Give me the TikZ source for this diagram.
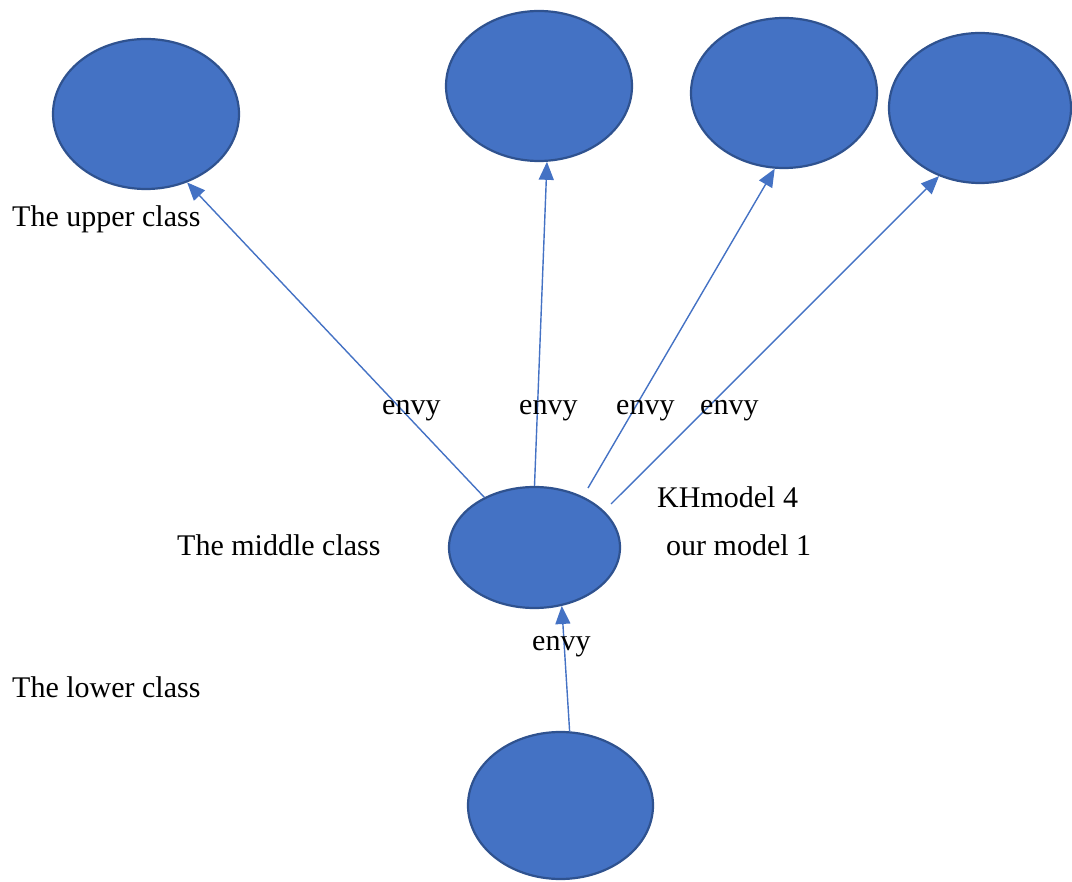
\documentclass[tikz,border=0pt]{standalone}
\usepackage{fontspec}
\setmainfont{Liberation Serif}
\usetikzlibrary{shapes.geometric,arrows.meta}
\definecolor{ofill}{HTML}{4472C4}
\definecolor{oedge}{HTML}{2F528F}
\tikzset{
  blob/.style={ellipse, fill=ofill, draw=oedge, line width=2.2pt, inner sep=0pt},
  envyarrow/.style={draw=ofill, line width=1.4pt, -{Triangle[length=18pt,width=15pt]}},
  lbl/.style={anchor=base west, inner sep=0pt, font=\fontsize{30}{35}\selectfont, text=black}
}
\begin{document}
\begin{tikzpicture}[x=1pt,y=-1pt]
\useasboundingbox (0,0) rectangle (1072,882);
% ellipses
\node[blob, minimum width=186pt, minimum height=150pt] (e1) at (146,114) {};
\node[blob, minimum width=186pt, minimum height=150pt] (e2) at (539,86) {};
\node[blob, minimum width=186pt, minimum height=150pt] (e3) at (784,93) {};
\node[blob, minimum width=182pt, minimum height=150pt] (e4) at (980,108) {};
\node[blob, minimum width=171pt, minimum height=121pt] (mid) at (534.5,547.5) {};
\node[blob, minimum width=185pt, minimum height=147pt] (low) at (560.5,805.5) {};
% tails off the border
\coordinate (s3) at (588,488);
\coordinate (s4) at (611,504);
% arrows
\draw[envyarrow] (mid.135.6) -- (e1.-59.3);
\draw[envyarrow] (mid.90) -- (e2.-84.7);
\draw[envyarrow] (s3) -- (e3.-97.8);
\draw[envyarrow] (s4) -- (e4.-121);
\draw[envyarrow] (low.83.5) -- (mid.-65.6);
% labels
\node[lbl] (t1) at (12,227) {The upper class};
\node[lbl] (t2) at (177,556) {The middle class};
\node[lbl] (t3) at (12,697) {The lower class};
\node[lbl] (k1) at (657,508) {KHmodel 4};
\node[lbl] (k2) at (666,556) {our model 1};
\node[lbl] (v1) at (382,415) {envy};
\node[lbl] (v2) at (519,415) {envy};
\node[lbl] (v3) at (616,415) {envy};
\node[lbl] (v4) at (700,415) {envy};
\node[lbl] (v5) at (532,650) {envy};
\end{tikzpicture}
\end{document}
